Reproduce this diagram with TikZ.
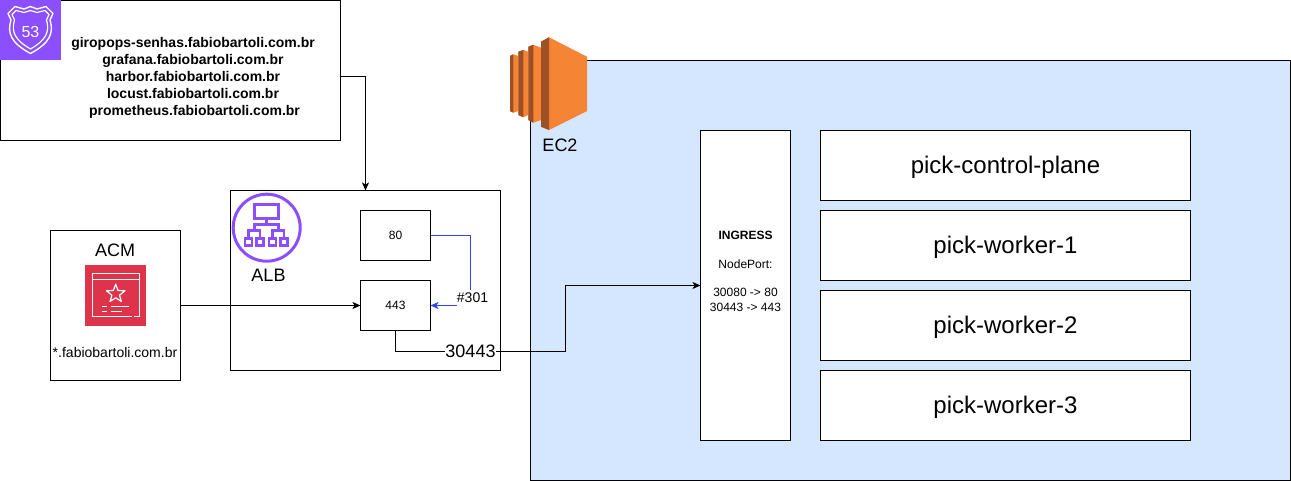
\documentclass[tikz,border=0pt]{standalone}
\usepackage{fontspec}
\setmainfont{Liberation Sans}
\usetikzlibrary{arrows.meta,calc}
\definecolor{awspurple}{HTML}{8C4FFF}
\definecolor{awsred}{HTML}{DD344C}
\definecolor{ec2light}{HTML}{F58534}
\definecolor{ec2dark}{HTML}{9D5025}
\definecolor{ec2bg}{HTML}{D5E6FF}
\definecolor{redirect}{HTML}{3344FF}
\newcommand{\fs}[1]{\fontsize{#1}{#1 pt}\selectfont}
\tikzset{
  box/.style={draw=black,fill=white,line width=1pt,rectangle,inner sep=0pt,outer sep=0pt,align=center},
  workerbox/.style={box,minimum width=370,minimum height=70,font=\fs{24},text height=21pt,text depth=5pt},
  portbox/.style={box,minimum width=70,minimum height=50,font=\fs{12}},
  txt/.style={inner sep=0pt,outer sep=0pt,align=center},
  edgelabel/.style={fill=white,inner sep=0pt,outer sep=0pt},
  conn/.style={draw=black,line width=1pt,-{Stealth[length=8pt,width=7pt,inset=2pt]}},
  redir/.style={draw=redirect,line width=1pt,-{Stealth[length=8pt,width=7pt,inset=2pt]}},
  iconw/.style={draw=white,line width=1pt,line join=round},
  iconp/.style={draw=awspurple,line width=2.6pt,line join=miter},
}
\begin{document}
\begin{tikzpicture}[x=1pt,y=-1pt]
\useasboundingbox (0,0) rectangle (1291,481);

% EC2 area
\node[box,fill=ec2bg,minimum width=760,minimum height=420] (ec2area) at (910.5,270.5) {};
\fill[ec2light] (510,56) -- (513.3,54.3) -- (518.3,56) -- (518.3,111) -- (513.3,112.7) -- (510,111) -- cycle;
\fill[ec2dark] (510,56) -- (513.3,54.3) -- (513.3,112.7) -- (510,111) -- cycle;
\fill[ec2light] (518.3,51.7) -- (523.3,50) -- (528.3,51.7) -- (528.3,115) -- (523.3,117.3) -- (518.3,115) -- cycle;
\fill[ec2dark] (518.3,51.7) -- (523.3,50) -- (523.3,117.3) -- (518.3,115) -- cycle;
\fill[ec2light] (528.3,46.7) -- (533.3,44.7) -- (541,47.7) -- (541,120) -- (533.3,122.7) -- (528.3,120) -- cycle;
\fill[ec2dark] (528.3,46.7) -- (533.3,44.7) -- (533.3,122.7) -- (528.3,120) -- cycle;
\fill[ec2light] (541,41.7) -- (549,37.3) -- (587,56.7) -- (587,111) -- (549,130) -- (541,126.7) -- cycle;
\fill[ec2dark] (541,41.7) -- (549,37.3) -- (549,130) -- (541,126.7) -- cycle;
\node[txt,font=\fs{18}] (ec2label) at (560,145) {EC2};

% Route 53
\node[box,minimum width=340,minimum height=140] (dns) at (170.5,70.5) {};
\fill[awspurple] (0,0) rectangle (60.5,60.5);
\draw[iconw,line width=1.4pt] (30.5,6.5) -- (37,9) -- (46,6.5) -- (53,13.5) -- (50,20) .. controls (54,33) and (50,43) .. (30.5,53.5) .. controls (11,43) and (7,33) .. (11,20) -- (8,13.5) -- (15,6.5) -- (24,9) -- cycle;
\draw[iconw,line width=1.2pt] (30.5,10.5) -- (37,12.5) -- (45,10.5) -- (49,14.5) -- (46.5,20) .. controls (50,32) and (46,40) .. (30.5,49) .. controls (15,40) and (11,32) .. (14.5,20) -- (12,14.5) -- (16,10.5) -- (24,12.5) -- cycle;
\node[txt,text=white,font=\fs{16}] (r53num) at (30.5,31.5) {53};
\node[txt,font=\fs{14}\bfseries] (dnstext) at (193,78) {giropops-senhas.fabiobartoli.com.br\\[3pt]grafana.fabiobartoli.com.br\\[3pt]harbor.fabiobartoli.com.br\\[3pt]locust.fabiobartoli.com.br\\[3pt]\hspace*{3pt}prometheus.fabiobartoli.com.br};

% ALB
\node[box,minimum width=270,minimum height=180] (alb) at (365.5,280.5) {};
\draw[iconp,line width=3pt] (266.7,227.7) circle (33.5);
\draw[iconp] (254.3,204.3) rectangle (278.3,218.3);
\draw[iconp] (266.3,218.3) -- (266.3,224.3) (254.3,230.7) -- (254.3,224.3) -- (278.3,224.3) -- (278.3,230.7);
\draw[iconp] (248.3,238.5) -- (248.3,230.7) -- (260,230.7) -- (260,238.5);
\draw[iconp] (272.3,238.5) -- (272.3,230.7) -- (284,230.7) -- (284,238.5);
\foreach \cx in {248.3,260,272.3,284}{\draw[iconp] (\cx-3.5,238.5) rectangle (\cx+3.5,245.5);}
\node[txt,font=\fs{18}] (alblabel) at (268.5,275) {ALB};
\node[portbox] (p80) at (395.5,235.5) {80};
\node[portbox] (p443) at (395.5,305.5) {443};

% ACM
\node[box,minimum width=130,minimum height=150] (acm) at (115.5,305.5) {};
\node[txt,font=\fs{18}] (acmlabel) at (115,250) {ACM};
\fill[awsred] (85.3,265) rectangle (145.7,325.7);
\draw[iconw] (92.3,274) rectangle (139.3,279.3);
\draw[iconw] (92.3,279.3) -- (92.3,316.7) -- (131.7,316.7) (134.3,316.7) -- (139.3,316.7) -- (139.3,279.3);
\draw[iconw,line width=1.2pt] (115.7,284.2) -- (118,290.5) -- (125,290.8) -- (119.5,295.2) -- (121.4,301.5) -- (115.7,297.8) -- (110,301.5) -- (111.9,295.2) -- (106.4,290.8) -- (113.4,290.5) -- cycle;
\draw[iconw] (101.7,306.3) -- (106.7,306.3) (110.7,306.3) -- (129.3,306.3) (101.7,311) -- (106.7,311) (110.7,311) -- (122.3,311);
\node[txt,font=\fs{14}] (acmdomain) at (115,352.5) {*.fabiobartoli.com.br};

% Ingress and workers
\node[box,minimum width=90,minimum height=310,font=\fs{12}] (ingress) at (745.5,285.5) {\textbf{INGRESS}\\[2.4pt]~\\[2.4pt]NodePort:\\[2.4pt]~\\[2.4pt]30080 -> 80\\[2.4pt]30443 -> 443\\[2.4pt]~\\[2.4pt]~};
\node[workerbox] (w0) at (1005.5,165.5) {pick-control-plane};
\node[workerbox] (w1) at (1005.5,245.5) {pick-worker-1};
\node[workerbox] (w2) at (1005.5,325.5) {pick-worker-2};
\node[workerbox] (w3) at (1005.5,405.5) {pick-worker-3};

% Connectors
\coordinate (dnsout) at ($(dns.east)+(0,6.5)$);
\draw[conn] (dnsout) -| (alb.north);
\draw[conn] (acm.east) -- (p443.west);
\draw[redir] (p80.east) -- (470.5,235.5) -- (470.5,305.5) -- (p443.east);
\node[edgelabel,font=\fs{14},minimum width=31,minimum height=16] (l301) at (472.5,298) {\#301};
\draw[conn] (p443.south) -- (395.5,351) -- (565.5,351) -- (565.5,285.5) -- (ingress.west);
\node[edgelabel,font=\fs{18}] (l30443) at (470.5,351) {30443};
\end{tikzpicture}
\end{document}
